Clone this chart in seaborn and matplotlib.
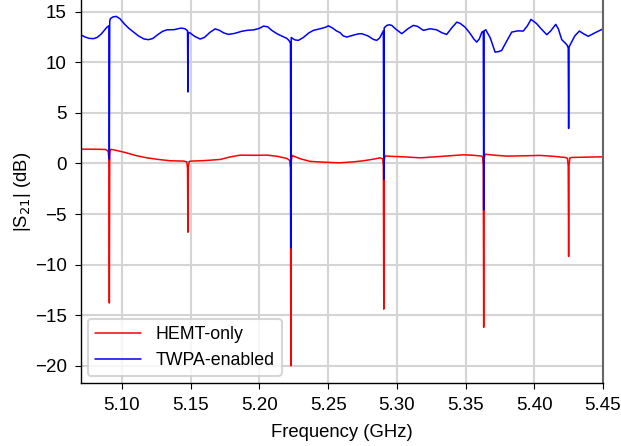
import matplotlib
matplotlib.use('Agg')
import matplotlib.pyplot as plt
import seaborn as sns
import pandas as pd

# values (GHz, dB)
hemt_freq = [5.0700, 5.0800, 5.0880, 5.0900, 5.0905, 5.0908, 5.0911, 5.0915,
             5.0927, 5.0970, 5.1024, 5.1100, 5.1182, 5.1260, 5.1351, 5.1448,
             5.1472, 5.1477, 5.1480, 5.1483, 5.1490, 5.1509, 5.1600, 5.1715,
             5.1780, 5.1860, 5.1960, 5.2054, 5.2130, 5.2200, 5.2220, 5.2226,
             5.2229, 5.2232, 5.2238, 5.2243, 5.2300, 5.2369, 5.2470, 5.2582,
             5.2680, 5.2757, 5.2830, 5.2878, 5.2897, 5.2902, 5.2905, 5.2908,
             5.2914, 5.2927, 5.3050, 5.3169, 5.3330, 5.3484, 5.3560, 5.3618,
             5.3624, 5.3629, 5.3632, 5.3635, 5.3641, 5.3654, 5.3720, 5.3800,
             5.3920, 5.4042, 5.4140, 5.4224, 5.4242, 5.4247, 5.4250, 5.4253,
             5.4259, 5.4272, 5.4380, 5.4498]
hemt_s21 = [1.41, 1.40, 1.38, 1.20, 0.50, -13.8, 0.80, 1.38,
            1.38, 1.25, 1.08, 0.78, 0.55, 0.40, 0.26, 0.23,
            0.15, -0.50, -6.8, -0.30, 0.20, 0.23, 0.28, 0.39,
            0.62, 0.82, 0.80, 0.82, 0.70, 0.49, 0.30, -0.50,
            -20.0, 0.20, 0.80, 0.75, 0.45, 0.20, 0.12, 0.06,
            0.15, 0.26, 0.42, 0.55, 0.45, -0.30, -14.4, 0.20,
            0.75, 0.72, 0.65, 0.55, 0.70, 0.85, 0.80, 0.72,
            0.60, -0.20, -16.2, 0.30, 0.90, 0.89, 0.80, 0.72,
            0.75, 0.79, 0.70, 0.59, 0.50, -0.30, -9.2, -0.20,
            0.55, 0.59, 0.62, 0.65]

twpa_freq = [5.0700, 5.0730, 5.0760, 5.0793, 5.0820, 5.0850, 5.0875, 5.0891,
             5.0905, 5.0908, 5.0911, 5.0915, 5.0935, 5.0959, 5.0985, 5.1020,
             5.1050, 5.1084, 5.1120, 5.1160, 5.1193, 5.1225, 5.1260, 5.1295,
             5.1327, 5.1380, 5.1420, 5.1436, 5.1460, 5.1477, 5.1480, 5.1483,
             5.1497, 5.1530, 5.1569, 5.1600, 5.1640, 5.1678, 5.1710, 5.1740,
             5.1775, 5.1820, 5.1870, 5.1909, 5.1960, 5.2000, 5.2030, 5.2060,
             5.2090, 5.2127, 5.2170, 5.2200, 5.2215, 5.2226, 5.2229, 5.2232,
             5.2236, 5.2260, 5.2284, 5.2320, 5.2360, 5.2393, 5.2440, 5.2480,
             5.2502, 5.2530, 5.2560, 5.2587, 5.2610, 5.2636, 5.2690, 5.2720,
             5.2745, 5.2790, 5.2830, 5.2854, 5.2875, 5.2898, 5.2902, 5.2905,
             5.2908, 5.2927, 5.2945, 5.2963, 5.2990, 5.3036, 5.3080, 5.3120,
             5.3150, 5.3193, 5.3242, 5.3290, 5.3330, 5.3363, 5.3400, 5.3436,
             5.3460, 5.3496, 5.3530, 5.3560, 5.3581, 5.3600, 5.3619, 5.3629,
             5.3632, 5.3635, 5.3647, 5.3680, 5.3715, 5.3740, 5.3763, 5.3800,
             5.3836, 5.3880, 5.3920, 5.3950, 5.3976, 5.4000, 5.4018, 5.4050,
             5.4091, 5.4120, 5.4156, 5.4175, 5.4200, 5.4225, 5.4240, 5.4247,
             5.4250, 5.4253, 5.4265, 5.4295, 5.4328, 5.4360, 5.4393, 5.4440,
             5.4498]
twpa_s21 = [12.72, 12.50, 12.36, 12.33, 12.45, 12.80, 13.20, 13.47,
            13.60, 0.42, 14.00, 14.30, 14.48, 14.53, 14.30, 13.75,
            13.35, 12.98, 12.60, 12.30, 12.23, 12.35, 12.72, 13.05,
            13.20, 13.22, 13.35, 13.37, 13.30, 13.10, 7.06, 12.95,
            12.88, 12.55, 12.29, 12.45, 12.95, 13.30, 13.15, 12.90,
            12.75, 12.85, 13.05, 13.15, 13.20, 13.35, 13.57, 13.50,
            13.15, 12.82, 12.55, 12.35, 12.15, 11.90, -8.35, 12.45,
            12.39, 12.20, 12.16, 12.45, 12.90, 13.15, 13.30, 13.45,
            13.60, 13.40, 13.10, 12.92, 12.60, 12.49, 12.70, 12.80,
            12.82, 12.60, 12.25, 12.16, 12.40, 12.98, 13.10, -1.58,
            13.40, 13.64, 13.70, 13.64, 13.30, 12.82, 13.30, 13.64,
            13.55, 13.15, 13.31, 13.20, 12.90, 12.75, 13.40, 13.96,
            13.85, 13.47, 12.90, 12.30, 11.99, 12.30, 12.98, 13.05,
            -4.60, 13.10, 13.21, 12.40, 11.00, 11.05, 11.17, 12.10,
            12.98, 13.10, 13.08, 13.60, 14.23, 14.00, 13.80, 13.30,
            12.72, 13.10, 13.74, 13.30, 12.23, 11.90, 11.67, 11.40,
            3.45, 11.50, 11.83, 12.60, 13.08, 12.80, 12.56, 12.90,
            13.28]

x_ticks = [5.10, 5.15, 5.20, 5.25, 5.30, 5.35, 5.40, 5.45]
y_ticks = [-20, -15, -10, -5, 0, 5, 10, 15]

sns.set_style('whitegrid')
plt.rcParams['font.family'] = ['Liberation Sans', 'DejaVu Sans']
plt.rcParams['text.color'] = 'black'
plt.rcParams['axes.labelcolor'] = 'black'
plt.rcParams['xtick.color'] = 'black'
plt.rcParams['ytick.color'] = 'black'

fig = plt.figure(figsize=(6.21, 4.46), dpi=100)
ax = fig.add_axes([0.130, 0.1413, 0.841, 0.8587])

hemt = pd.DataFrame({'f': hemt_freq, 's21': hemt_s21})
twpa = pd.DataFrame({'f': twpa_freq, 's21': twpa_s21})
sns.lineplot(data=hemt, x='f', y='s21', ax=ax, color='red', lw=1.1,
             sort=False, estimator=None, label='HEMT-only')
sns.lineplot(data=twpa, x='f', y='s21', ax=ax, color='blue', lw=1.1,
             sort=False, estimator=None, label='TWPA-enabled')

ax.set_xlim(5.07, 5.45)
ax.set_ylim(-21.7, 16.15)
ax.set_xticks(x_ticks)
ax.set_xticklabels([f'{t:.2f}' for t in x_ticks])
ax.set_yticks(y_ticks)
ax.set_yticklabels([f'\u2212{-t}' if t < 0 else str(t) for t in y_ticks])
ax.tick_params(axis='both', direction='out', length=4, width=0.8,
               color='black', labelsize=13.5, pad=6, bottom=True, left=True)
ax.grid(True, color='#d4d4d4', lw=1.5)
ax.set_xlabel('Frequency (GHz)', fontsize=13.3, labelpad=7)
ax.set_ylabel('|S$_{21}$| (dB)', fontsize=13.3, labelpad=1)

for side in ['left', 'bottom']:
    ax.spines[side].set_color('black')
    ax.spines[side].set_linewidth(1.0)
ax.spines['right'].set_color('#666666')
ax.spines['right'].set_linewidth(1.5)
ax.spines['top'].set_visible(False)

leg = ax.legend(loc='lower left', fontsize=12.8, frameon=True, fancybox=True,
                borderaxespad=0.4, handlelength=2.6)
leg.get_frame().set_edgecolor('#cccccc')
leg.get_frame().set_linewidth(1.5)

fig.savefig('out.png', dpi=100)
